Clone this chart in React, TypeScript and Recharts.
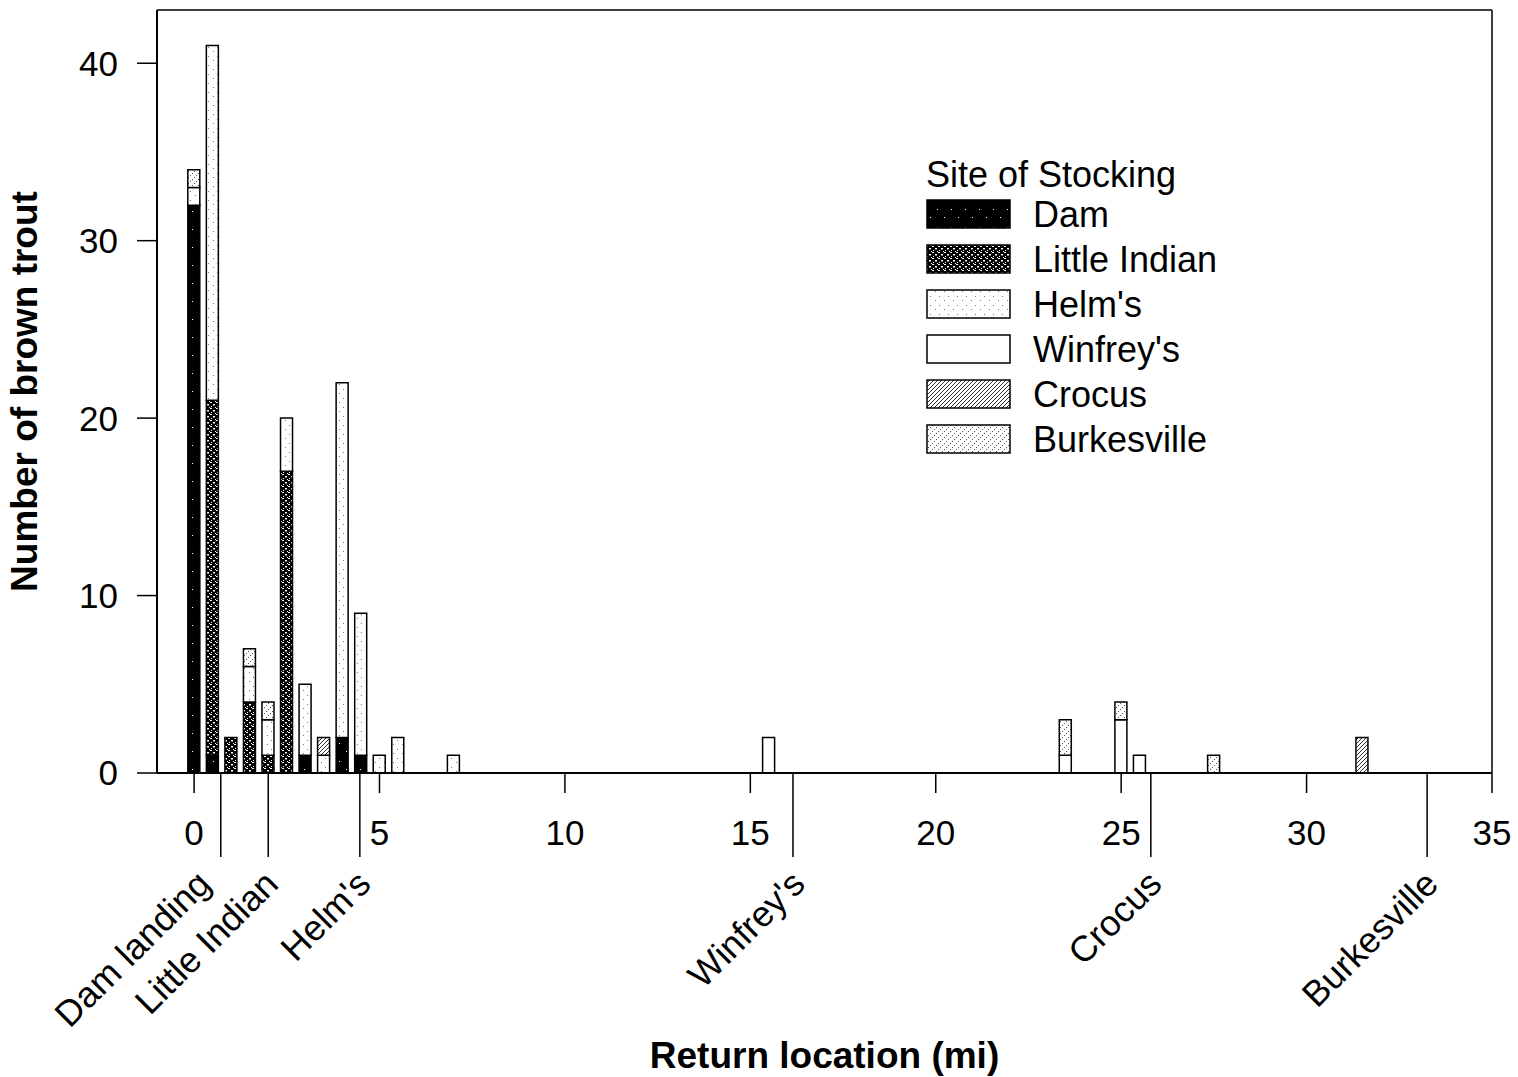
import React from "react";
import { BarChart, Bar, XAxis, YAxis, Legend, ReferenceLine, Label } from "recharts";

// ---- data ----
const miles = [0, 0.5, 1, 1.5, 2, 2.5, 3, 3.5, 4, 4.5, 5, 5.5, 7, 15.5, 23.5, 25, 25.5, 27.5, 31.5];
const dam = [32, 1, 0, 0, 0, 0, 1, 0, 2, 1, 0, 0, 0, 0, 0, 0, 0, 0, 0];
const littleIndian = [0, 20, 2, 4, 1, 17, 0, 0, 0, 0, 0, 0, 0, 0, 0, 0, 0, 0, 0];
const helms = [1, 20, 0, 2, 2, 3, 4, 1, 20, 8, 1, 2, 1, 0, 0, 0, 0, 0, 0];
const winfreys = [0, 0, 0, 0, 0, 0, 0, 0, 0, 0, 0, 0, 0, 2, 1, 3, 1, 0, 0];
const crocus = [0, 0, 0, 0, 0, 0, 0, 1, 0, 0, 0, 0, 0, 0, 0, 0, 0, 0, 2];
const burkesville = [1, 0, 0, 1, 1, 0, 0, 0, 0, 0, 0, 0, 0, 0, 2, 1, 0, 1, 0];

const seriesKeys = ["dam", "littleIndian", "helms", "winfreys", "crocus", "burkesville"];
const seriesNames = ["Dam", "Little Indian", "Helm's", "Winfrey's", "Crocus", "Burkesville"];

const mileTicks = [0, 5, 10, 15, 20, 25, 30, 35];
const siteMiles = [0.72, 2.0, 4.47, 16.15, 25.8, 33.25];
const siteNames = ["Dam landing", "Little Indian", "Helm's", "Winfrey's", "Crocus", "Burkesville"];
const yTicks = [0, 10, 20, 30, 40];

const legendTitle = "Site of Stocking";
const xTitle = "Return location (mi)";
const yTitle = "Number of brown trout";

const data = miles.map((m, i) => ({
  mile: m,
  dam: dam[i],
  littleIndian: littleIndian[i],
  helms: helms[i],
  winfreys: winfreys[i],
  crocus: crocus[i],
  burkesville: burkesville[i],
}));

// ---- styles ----
const FONT = "'Liberation Sans', Arial, Helvetica, sans-serif";
const FILLS: Record<string, string> = {
  dam: "url(#pDam)",
  littleIndian: "url(#pLittle)",
  helms: "url(#pHelm)",
  winfreys: "#ffffff",
  crocus: "url(#pCrocus)",
  burkesville: "url(#pBurk)",
};
// horizontal nudge of each rotated site label (pixels)
const siteLabelNudge = [-18, 2, 3, 4, 3, 3];

const allTicks = [...mileTicks, ...siteMiles].sort((a, b) => a - b);

const XTick = (props: any) => {
  const { x, y, payload } = props;
  const v = payload.value;
  const si = siteMiles.indexOf(v);
  if (si >= 0) {
    const tx = x + 10 + siteLabelNudge[si];
    const ty = y + 113;
    return (
      <g>
        <line x1={x} y1={y} x2={x} y2={y + 84} stroke="#000" strokeWidth={1.5} />
        <text
          x={tx}
          y={ty}
          textAnchor="end"
          fontSize={36}
          fontFamily={FONT}
          fill="#000"
          transform={`rotate(-45, ${tx}, ${ty})`}
        >
          {siteNames[si]}
        </text>
      </g>
    );
  }
  return (
    <g>
      <line x1={x} y1={y} x2={x} y2={y + 20} stroke="#000" strokeWidth={1.5} />
      <text x={x} y={y + 72} textAnchor="middle" fontSize={35} fontFamily={FONT} fill="#000">
        {String(v)}
      </text>
    </g>
  );
};

const renderLegend = () => (
  <svg width={340} height={320} style={{ display: "block", overflow: "visible" }}>
    <text x={6} y={37} fontSize={36} fontFamily={FONT} fill="#000">
      {legendTitle}
    </text>
    {seriesKeys.map((k, i) => (
      <g key={k}>
        <rect x={7} y={50 + 45 * i} width={83} height={28} fill={FILLS[k]} stroke="#000" strokeWidth={1.5} />
        <text x={113} y={77 + 45 * i} fontSize={36} fontFamily={FONT} fill="#000">
          {seriesNames[i]}
        </text>
      </g>
    ))}
  </svg>
);

export default function App() {
  return (
    <div style={{ position: "absolute", left: 0, top: 0, background: "#fff", fontFamily: FONT }}>
      <BarChart
        width={1518}
        height={1077}
        data={data}
        margin={{ top: 10, right: 26, left: 0, bottom: 0 }}
        style={{ fontFamily: FONT }}
      >
        <defs>
          <pattern id="pDam" patternUnits="userSpaceOnUse" width={14} height={18}>
            <rect width={14} height={18} fill="#000" />
            <rect x={3} y={5} width={1} height={1} fill="#fff" />
            <rect x={10} y={13} width={1} height={1} fill="#fff" />
          </pattern>
          <pattern id="pLittle" patternUnits="userSpaceOnUse" width={6} height={6}>
            <rect width={6} height={6} fill="#000" />
            <rect x={0} y={0} width={2} height={1} fill="#fff" />
            <rect x={3} y={2} width={2} height={1.5} fill="#fff" />
            <rect x={1} y={4} width={1} height={1} fill="#fff" />
            <rect x={5} y={5} width={1} height={1} fill="#fff" />
          </pattern>
          <pattern id="pHelm" patternUnits="userSpaceOnUse" width={9} height={9}>
            <rect width={9} height={9} fill="#fff" />
            <rect x={1} y={2} width={1} height={1} fill="#777" />
            <rect x={6} y={6} width={1} height={1} fill="#777" />
          </pattern>
          <pattern id="pCrocus" patternUnits="userSpaceOnUse" width={4} height={4}>
            <rect width={4} height={4} fill="#fff" />
            <rect x={0} y={3} width={1} height={1} fill="#333" />
            <rect x={1} y={2} width={1} height={1} fill="#333" />
            <rect x={2} y={1} width={1} height={1} fill="#333" />
            <rect x={3} y={0} width={1} height={1} fill="#333" />
          </pattern>
          <pattern id="pBurk" patternUnits="userSpaceOnUse" width={6} height={6}>
            <rect width={6} height={6} fill="#fff" />
            <rect x={0} y={5} width={1} height={1} fill="#555" />
            <rect x={2} y={3} width={1} height={1} fill="#555" />
            <rect x={4} y={1} width={1} height={1} fill="#555" />
          </pattern>
        </defs>
        <XAxis
          dataKey="mile"
          type="number"
          domain={[-1, 35]}
          ticks={allTicks}
          interval={0}
          height={304}
          tickLine={false}
          tickSize={0}
          tickMargin={0}
          tick={<XTick />}
          axisLine={{ stroke: "#000", strokeWidth: 2 }}
          allowDataOverflow
        >
          <Label
            value={xTitle}
            position="insideBottom"
            offset={9}
            style={{ fontSize: 37, fontWeight: "bold", fill: "#000", fontFamily: FONT }}
          />
        </XAxis>
        <YAxis
          type="number"
          domain={[0, 43]}
          ticks={yTicks}
          width={157}
          tickSize={20}
          tickMargin={19}
          interval={0}
          tick={{ fontSize: 35, fill: "#000", fontFamily: FONT }}
          tickLine={{ stroke: "#000", strokeWidth: 1.5 }}
          axisLine={{ stroke: "#000", strokeWidth: 2 }}
          allowDataOverflow
        >
          <Label
            value={yTitle}
            angle={-90}
            position="insideLeft"
            offset={24}
            style={{ fontSize: 37, fontWeight: "bold", fill: "#000", textAnchor: "middle", fontFamily: FONT }}
          />
        </YAxis>
        <ReferenceLine y={43} stroke="#000" strokeWidth={1.5} />
        <ReferenceLine x={35} stroke="#000" strokeWidth={1.5} />
        <Legend
          layout="horizontal"
          verticalAlign="middle"
          align="center"
          content={renderLegend}
          wrapperStyle={{ position: "absolute", left: 920, top: 150, width: 340, height: 320 }}
        />
        {seriesKeys.map((k, i) => (
          <Bar
            key={k}
            dataKey={k}
            name={seriesNames[i]}
            stackId="a"
            barSize={12}
            fill={FILLS[k]}
            stroke="#000"
            strokeWidth={1.5}
            isAnimationActive={false}
          />
        ))}
      </BarChart>
    </div>
  );
}
